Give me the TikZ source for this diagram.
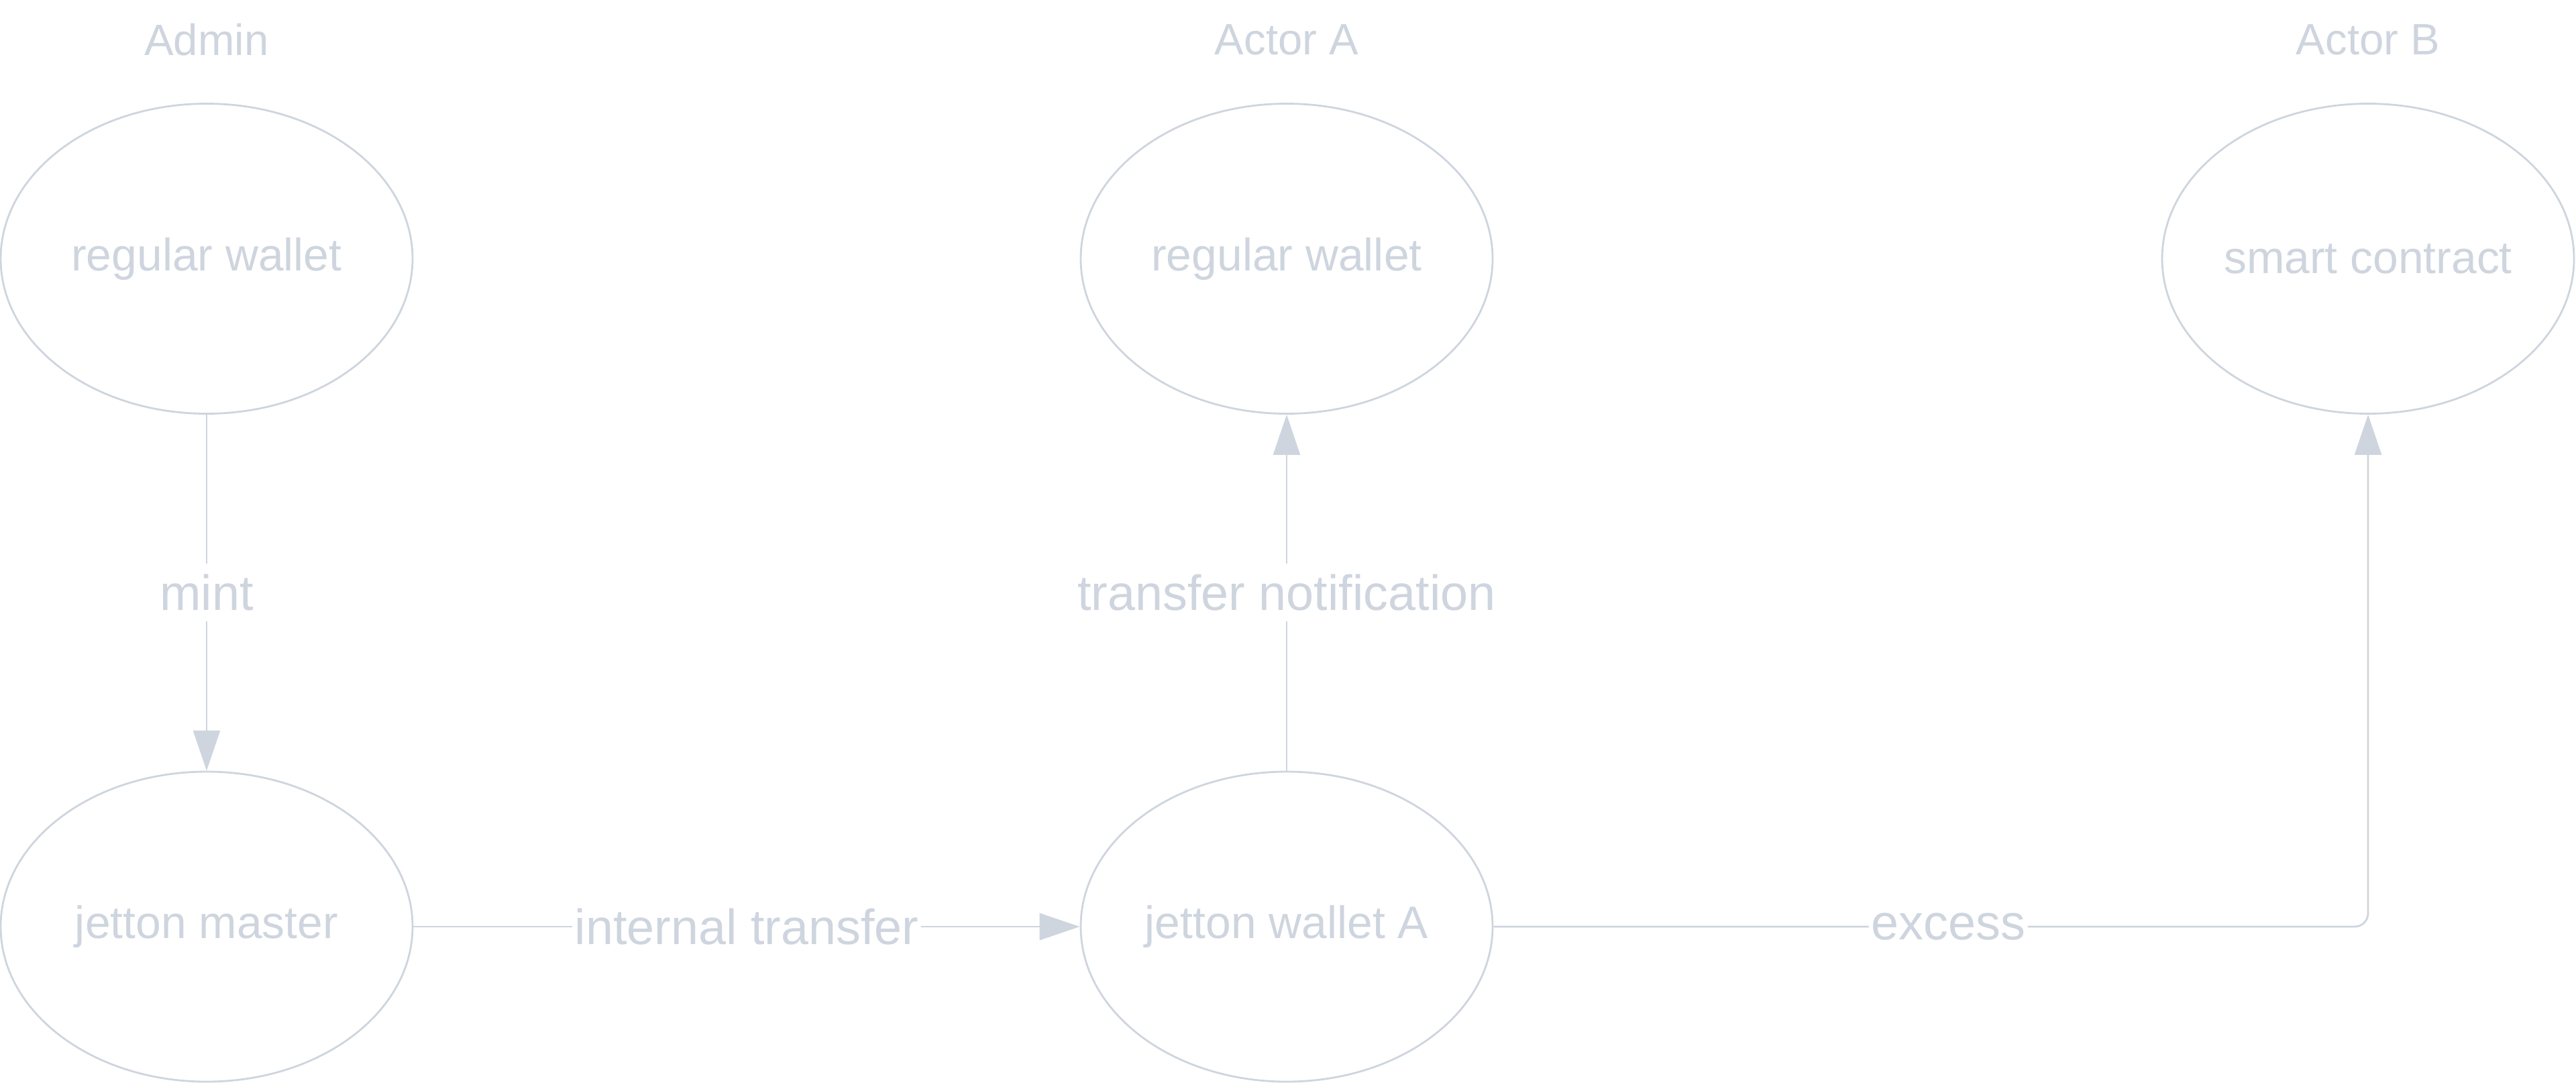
\documentclass[tikz,border=0pt]{standalone}
\usepackage{fontspec}
\setmainfont{Liberation Sans}
\usetikzlibrary{shapes.geometric,arrows.meta}
\definecolor{linegray}{HTML}{CED5DE}
\begin{document}
\begin{tikzpicture}[>={Triangle[length=0.6cm,width=0.4cm]},line join=round,line width=0.8pt,font=\fontsize{19.3}{23}\selectfont]
\def\colA{3.08}
\def\colB{19.18}
\def\colC{35.30}
\def\rowtop{-3.855}
\def\rowbot{-13.81}
\tikzset{actor/.style={ellipse,draw=linegray,text=linegray,minimum width=6.14cm,minimum height=4.62cm,inner sep=0pt},
 role/.style={text=linegray,font=\fontsize{18.6}{22}\selectfont},
 msg/.style={fill=white,text=linegray,font=\fontsize{21}{25}\selectfont,inner xsep=1pt,inner ysep=0pt,minimum height=0.86cm},
 flow/.style={->,draw=linegray}}
\useasboundingbox (0,0) rectangle (38.4,-16.13);
% roles
\node[role] (admin) at (\colA,-0.59) {Admin};
\node[role] (actora) at (\colB,-0.59) {Actor A};
\node[role] (actorb) at (\colC,-0.59) {Actor B};
% wallets and contracts
\node[actor] (adminwallet) at (\colA,\rowtop) {regular wallet};
\node[actor] (walleta) at (\colB,\rowtop) {regular wallet};
\node[actor] (contractb) at (\colC,\rowtop) {smart contract};
\node[actor] (master) at (\colA,\rowbot) {jetton master};
\node[actor] (jwalleta) at (\colB,\rowbot) {jetton wallet A};
% messages
\draw[flow] (adminwallet) -- node[msg] (mint) {mint} (master);
\draw[flow] (master) -- node[msg] (internal) {internal transfer} (jwalleta);
\draw[flow] (jwalleta) -- node[msg] (notify) {transfer notification} (walleta);
\draw[flow,rounded corners=0.2cm] (jwalleta.east) -| node[msg,pos=0.26] (excess) {excess} (contractb.south);
\end{tikzpicture}
\end{document}
